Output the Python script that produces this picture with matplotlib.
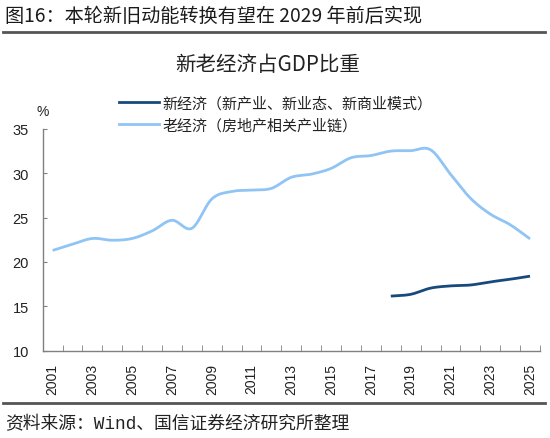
import numpy as np
import matplotlib
matplotlib.use("Agg")
from matplotlib import pyplot as plt
from matplotlib.lines import Line2D

plt.rcParams['font.family'] = ['Noto Sans CJK SC', 'DejaVu Sans']

#%% data (% of GDP)
years = list(range(2001, 2026))
old_economy = [21.3, 22.0, 22.65, 22.45, 22.65, 23.5, 24.7, 23.8, 27.1, 27.95,
               28.1, 28.3, 29.55, 29.9, 30.55, 31.75, 32.0, 32.5, 32.55, 32.65,
               29.9, 27.2, 25.4, 24.2, 22.6]
new_years = list(range(2018, 2026))
new_economy = [16.15, 16.35, 17.05, 17.3, 17.4, 17.75, 18.05, 18.4]

new_label = "新经济（新产业、新业态、新商业模式）"
old_label = "老经济（房地产相关产业链）"
tick_years = [y for y in years if y % 2 == 1]


def smooth(x, y, n=20):
    # catmull-rom, only for drawing the curve like excel's smoothed line
    x = np.asarray(x, float); y = np.asarray(y, float)
    px = np.r_[2 * x[0] - x[1], x, 2 * x[-1] - x[-2]]
    py = np.r_[2 * y[0] - y[1], y, 2 * y[-1] - y[-2]]
    xs, ys = [], []
    t = np.linspace(0, 1, n, endpoint=False)
    for i in range(1, len(px) - 2):
        for p, out in ((px, xs), (py, ys)):
            p0, p1, p2, p3 = p[i - 1], p[i], p[i + 1], p[i + 2]
            out.extend(0.5 * (2 * p1 + (-p0 + p2) * t
                              + (2 * p0 - 5 * p1 + 4 * p2 - p3) * t ** 2
                              + (-p0 + 3 * p1 - 3 * p2 + p3) * t ** 3))
    xs.append(x[-1]); ys.append(y[-1])
    return np.array(xs), np.array(ys)


#%% plot
f = plt.figure(figsize=(5.5, 4.39), dpi=100)
ax = f.add_axes([0.0776, 0.199, 0.9042, 0.505])

c_old = '#90C4F5'
c_new = '#174A7C'

xo = [years.index(y) for y in years]
xn = [years.index(y) for y in new_years]
ax.plot(*smooth(xo, old_economy), color=c_old, lw=2.0, solid_capstyle='butt')
ax.plot(*smooth(xn, new_economy), color=c_new, lw=2.0, solid_capstyle='butt')

ax.set_xlim(-0.5, len(years) - 0.5)
ax.set_ylim(10, 35)
ax.set_yticks(range(10, 36, 5))

ax.set_xticks([years.index(y) for y in tick_years])
ax.set_xticklabels([str(y) for y in tick_years], rotation=90,
                   family='Liberation Sans', fontsize=10, color='#222222')
ax.set_xticks(np.arange(0.5, len(years), 1.0), minor=True)
ax.tick_params(axis='x', which='major', length=0, pad=9)
ax.tick_params(axis='x', which='minor', direction='in', length=4, color='#808080')
ax.tick_params(axis='y', direction='in', length=3, color='#808080',
               labelsize=10.5, labelcolor='#222222', pad=10)
for lab in ax.get_yticklabels():
    lab.set_family('Liberation Sans')

for s in ['top', 'right']:
    ax.spines[s].set_visible(False)
for s in ['left', 'bottom']:
    ax.spines[s].set_color('#808080')
    ax.spines[s].set_linewidth(1.0)

#%% texts
f.text(0.009, 0.962, "图16：本轮新旧动能转换有望在 2029 年前后实现",
       fontsize=13.8, color='#1a1a1a', va='center', ha='left')
f.add_artist(Line2D([0.006, 0.991], [0.925, 0.925], color='#555555', lw=2.0,
                    transform=f.transFigure))
f.text(0.487, 0.852, "新老经济占GDP比重", fontsize=14.8, color='#222222',
       va='center', ha='center')
f.text(0.078, 0.745, "%", fontsize=10, color='#222222', va='center', ha='center',
       family='Liberation Sans')

handles = [Line2D([], [], color=c_new, lw=2.0), Line2D([], [], color=c_old, lw=2.0)]
f.legend(handles, [new_label, old_label], loc='center left',
         bbox_to_anchor=(0.205, 0.737), frameon=False, fontsize=10.8,
         handlelength=2.7, handletextpad=0.2, labelspacing=0.5,
         borderaxespad=0, labelcolor='#222222')

f.add_artist(Line2D([0.006, 0.991], [0.08, 0.08], color='#555555', lw=2.0,
                    transform=f.transFigure))
f.text(0.009, 0.032, "资料来源：Wind、国信证券经济研究所整理", fontsize=12.8,
       color='#222222', va='center', ha='left',
       family=['Liberation Mono', 'Noto Sans CJK SC'])

f.savefig('out.png', dpi=100)
